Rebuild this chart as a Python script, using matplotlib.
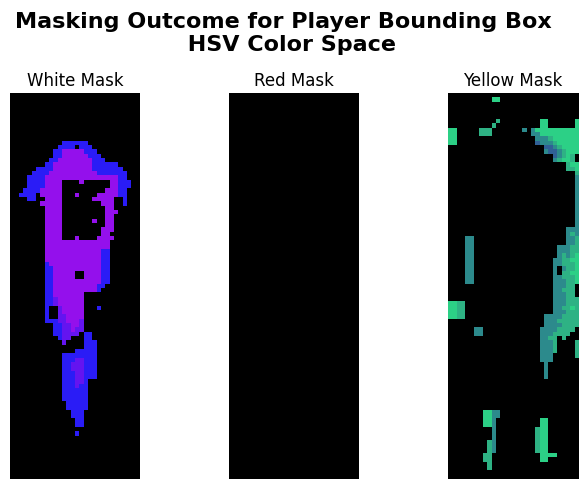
import numpy as np
import matplotlib
matplotlib.use("Agg")
import matplotlib.pyplot as plt

# mask grids (30 cols x 89 rows), one char per pixel, '.' = masked out
n_rows, n_cols = 89, 30

white_start = 11
white_rows = [
    "............BBBBBB............",
    "...........BBBB.BBB...........",
    "..........BBPPPPPBBB..........",
    "..........BBPPPPPPBBB.........",
    ".........BBPPPPPPPPBBB........",
    "........BBPPPPPPPPPBBBBBB.....",
    "......BBBBPPPPPPPPPBBBBBBB....",
    ".....BBBBPPPPPPPPPPPBBBBBBB...",
    "....BBBBPPPPPPPPPPPPPPPPPBB...",
    "....BBBBPPPP....P......PPBBB..",
    "....BBBBPPPP...........PPBBB..",
    "...BBBBPPPPP..........PPPBB...",
    "..BBBB.PPPPP...P....PPPPPBB...",
    "....BB..PPPP.......PPPPP..B...",
    ".......PPPPP.........PPP..B...",
    "........PPPP..........PP......",
    "........PPPP..........PPP.....",
    "........PPPP..........PP......",
    "........PPPP.......P..PP......",
    "........PPPP..........PP......",
    "........PPPP.........PPP......",
    "........PPPP.........PP.......",
    "........PPPP...P....PPPP......",
    "........PPPPPPPPPPPPPPP.......",
    "........PPPPPPPPPPPPPPP.......",
    "........PPPPPPPPPPPPPBB.......",
    "........PPPPPPPPPPPPPBB.......",
    "........PPPPPPPPPPPPPBB.......",
    "........BPPPPPPPPPPPPBB.......",
    "........BBPPPPPPPPPPPBB.......",
    "........BBPPPPP..PPPPBB.......",
    "........BBPPPPP..PPPPBB.......",
    "........BBPPPPPPPPPPPBB.......",
    "........BBPPPPPPPPPPBB........",
    "........BBPPPPPPPPPPB.........",
    "........BBPPPPPPP.............",
    "........BBVPPPPPP.............",
    "........BBVPPPPPP.............",
    "........B..VPPPPP...B.........",
    "........B..VPPPPP.............",
    "........B..VVPPPP.............",
    "........BBBVVPPPV.............",
    "..........BBVVPPV.............",
    "..........BBVVPVV.............",
    "..........BBVVVV.BB...........",
    "...........BVV...BB...........",
    "............V....BBB..........",
    ".................BBB..........",
    "...............BBBBB..........",
    "............BBBBBBBB..........",
    "............BBBVVBBB..........",
    "............BBVVVBBB..........",
    "............BBVVVBBB..........",
    "............BBBVVBBB..........",
    "............BBBVVBBB..........",
    "............BBBVVB............",
    "............BBBVBB............",
    "............BBBBBB............",
    "............BBBBBB............",
    "............BBBBBB............",
    ".............BBBBB............",
    ".............BBBBB............",
    "..............BBB.............",
    "..............BBB.............",
    "...............BB.............",
    "...............BB.............",
    "..............................",
    "...............B..............",
]

yellow_start = 0
yellow_rows = [
    "..............................",
    "..........GG..................",
    "..............................",
    "..............................",
    "..............................",
    "..............................",
    "...........g.........GG......G",
    "..........g..........GG......G",
    "GG.....ggg.......T.TGGGGGGGGGG",
    "GG.....ggg.........TTGGGGGGGGG",
    "GG..................TTTgGGGGGG",
    "GG..................DTTTgGGGGG",
    "......................DDTgGGGG",
    "......................TDDTgGGG",
    "........................DTgGg.",
    "........................TgGGg.",
    "...........................gGG",
    "...........................ggG",
    ".............................g",
    ".............................T",
    ".............................T",
    ".............................T",
    ".............................T",
    ".............................T",
    ".............................T",
    ".............................T",
    ".............................T",
    ".............................T",
    ".............................T",
    ".............................T",
    ".............................T",
    "...........................TTT",
    "...........................TgT",
    "....TT.....................TTg",
    "....TT.....................TTg",
    "....TT...................TTTgg",
    "....TT...................TTTgg",
    "....TT...................TgTgG",
    "....TT..................TTggGG",
    "....TT..................TTgggG",
    "....TT..................T.TggG",
    "....TT..................T.ggGG",
    "....TT..................TTgggG",
    "....TT..................TTTggG",
    "........................TTTgg.",
    "........................TTggg.",
    "........................TTTgg.",
    "........................TTTggg",
    "GGgg....................TTTggg",
    "GGgg....................TTggGg",
    "GGgg....................TTTggg",
    "GGgg..................TTTTgggg",
    "......................TTTggggg",
    "......................TTTTgggg",
    "......TT.............TTTTgggg.",
    "......TT.............TTTgggg..",
    ".....................TTgg.g...",
    ".....................TTTg....g",
    ".....................TTTg....g",
    ".....................TTTg....g",
    ".....................TTT.....g",
    ".....................TTT......",
    "......................T.......",
    "......................T.......",
    "......................T.......",
    "......................T.......",
    "..............................",
    "..............................",
    "..............................",
    "..............................",
    "..............................",
    "..............................",
    "..............................",
    "........GGTT..................",
    "........GGTT..................",
    "........GGT..........GG.......",
    "........GGT..........GG.......",
    "..........T.........gGG.......",
    "..........T.........gGG.......",
    "..........T.........gGG.......",
    ".........gT.........gGG.......",
    ".........gT.........gGG.......",
    ".........gT.........gGG.......",
    "........gg...........GGGG.....",
    "........gg...........GG.......",
    ".........g....................",
    ".........g....................",
]

# HSV values shown as RGB (H, S, V) for each pixel code
hsv_codes = {
    "B": (42, 28, 246),
    "V": (100, 20, 240),
    "P": (148, 16, 236),
    "G": (44, 208, 134),
    "g": (46, 178, 132),
    "T": (44, 138, 140),
    "D": (48, 96, 150),
}

titles = ["White Mask", "Red Mask", "Yellow Mask"]


def build(rows, start):
    img = np.zeros((n_rows, n_cols, 3), dtype=np.uint8)
    for i, row in enumerate(rows):
        for j, ch in enumerate(row):
            if ch in hsv_codes:
                img[start + i, j] = hsv_codes[ch]
    return img


images = [
    build(white_rows, white_start),
    np.zeros((n_rows, n_cols, 3), dtype=np.uint8),
    build(yellow_rows, yellow_start),
]

fig = plt.figure(figsize=(5.87, 4.89), dpi=100)
lefts = [10, 229, 448]
for left, img, title in zip(lefts, images, titles):
    ax = fig.add_axes([left / 587, 9 / 489, 130 / 587, 386 / 489])
    ax.imshow(img, aspect="auto", interpolation="nearest")
    ax.set_title(title, fontsize=12)
    ax.axis("off")

fig.suptitle("Masking Outcome for Player Bounding Box \n HSV Color Space",
             fontsize=16, fontweight="bold", x=0.49, y=0.975)
plt.savefig("out.png", dpi=100)
